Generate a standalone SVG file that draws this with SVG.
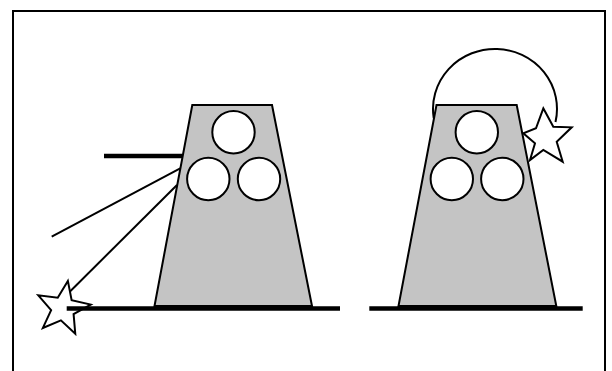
<svg xmlns="http://www.w3.org/2000/svg" width="612" height="371" viewBox="0 0 612 371">
  <style>
    .body { fill: #c4c4c4; stroke: #000; stroke-width: 2; stroke-linejoin: miter; }
    .hole { fill: #fff; stroke: #000; stroke-width: 2; }
    .thin { fill: none; stroke: #000; stroke-width: 2; }
    .thick { fill: none; stroke: #000; stroke-width: 4.5; }
    .star { fill: #fff; stroke: #000; stroke-width: 2; stroke-linejoin: miter; }
  </style>
  <rect width="612" height="371" fill="#fff"/>
  <rect id="frame" x="13" y="11" width="592" height="400" fill="none" stroke="#000" stroke-width="2"/>

  <g id="left-scene">
    <polygon class="body" points="192.3,105 272,105 312,306 154.5,306"/>
    <circle class="hole" cx="233.5" cy="132.3" r="21.2"/>
    <circle class="hole" cx="208.3" cy="179" r="21.2"/>
    <circle class="hole" cx="259" cy="179" r="21.2"/>
    <line class="thick" x1="104" y1="156" x2="182.5" y2="156"/>
    <line class="thin" x1="51.7" y1="236.7" x2="180.2" y2="168.3"/>
    <line class="thin" x1="68" y1="293.5" x2="177" y2="185"/>
    <polygon class="star" points="67.86,280.93 71.63,300.16 90.73,304.6 73.59,314.13 75.27,333.67 60.92,320.32 42.86,327.95 51.12,310.17 38.28,295.35 57.74,297.71"/>
    <line class="thick" x1="66.7" y1="308.5" x2="340" y2="308.5"/>
  </g>

  <g id="right-scene">
    <path class="thin" d="M433.7,118 A62 60 0 1 1 555.5,122"/>
    <polygon class="body" points="436.5,105 516.7,105 556.3,306 398.5,306"/>
    <circle class="hole" cx="476.8" cy="132.3" r="21.2"/>
    <circle class="hole" cx="451.8" cy="179" r="21.2"/>
    <circle class="hole" cx="502.3" cy="179" r="21.2"/>
    <polygon class="star" points="543.3,108.3 553.3,126.7 571.7,127.3 556.7,141.7 562.7,161.7 543.3,150 530,160 535,143.3 523.3,133.3 536,128.3"/>
    <line class="thick" x1="369.3" y1="308.5" x2="582.7" y2="308.5"/>
  </g>
</svg>
